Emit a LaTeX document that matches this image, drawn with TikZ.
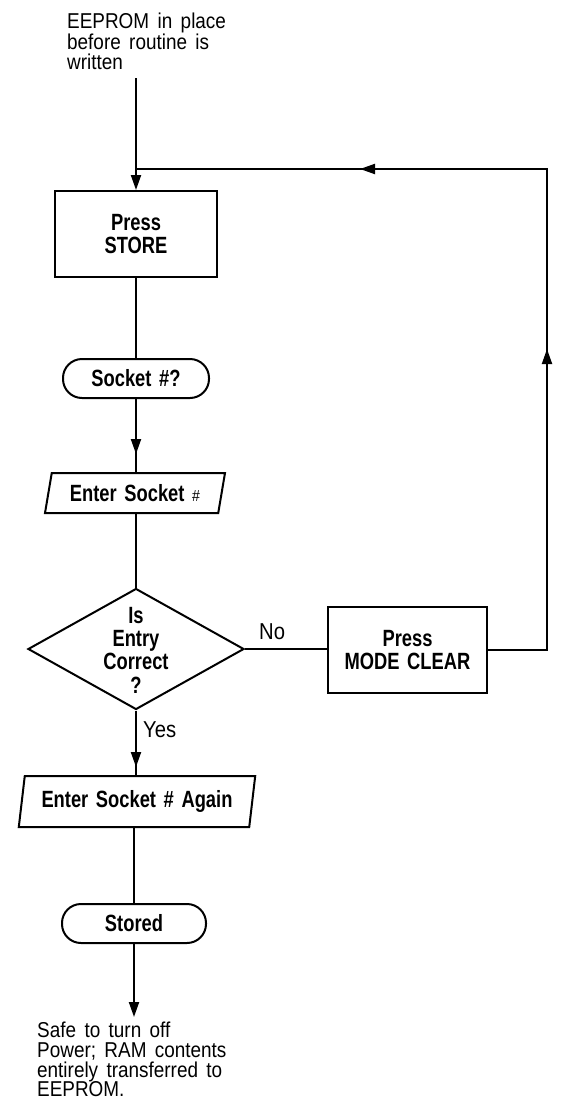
\documentclass[tikz,border=0pt]{standalone}
\usepackage{fontspec}
\usetikzlibrary{shapes.geometric, arrows.meta, decorations.markings}
\newfontfamily\regf{Liberation Sans}[FakeStretch=0.88, WordSpace=1.6]
\newfontfamily\boldf{Liberation Sans}[FakeStretch=0.78, WordSpace=1.5]
\tikzset{
  conn/.style={line width=2pt},
  endtip/.style={-{Triangle[length=15pt,width=10pt]}},
  boldtxt/.style={font=\boldf\bfseries\fontsize{23.5}{23.3}\selectfont},
  boxnode/.style={draw, line width=2pt, rectangle, inner sep=0pt, align=center, boldtxt},
  termnode/.style={draw, line width=2pt, rectangle, rounded corners=19pt, inner sep=0pt, boldtxt},
  paranode/.style={draw, line width=2pt, trapezium, trapezium stretches=true, inner sep=0pt, boldtxt},
  dianode/.style={draw, line width=2pt, diamond, inner sep=0pt, minimum width=216pt, minimum height=121pt},
  plaintxt/.style={inner sep=0pt, align=left, font=\regf\fontsize{21.5}{19.7}\selectfont},
  lbl/.style={inner sep=0pt, font=\regf\fontsize{23}{24}\selectfont}
}
\newcommand{\tri}{Triangle[length=15pt,width=10pt]}
\begin{document}
\begin{tikzpicture}[x=1pt, y=-1pt]
\fill[white] (0,0) rectangle (561,1119);
\useasboundingbox (0,0) rectangle (561,1119);

\node[plaintxt, anchor=north west] (toptxt) at (67,13) {EEPROM in place\\before routine is\\written};
\coordinate (topc) at (136,78);

\node[boxnode, minimum width=162pt, minimum height=86pt] (store) at (136,234) {Press\\STORE};
\node[termnode, minimum width=146pt, minimum height=39pt] (sockq) at (136,378.5) {Socket \#?};
\node[paranode, trapezium left angle=73, trapezium right angle=107, minimum width=180pt, minimum height=40pt] (ent1) at (135,493) {Enter Socket {\regf\mdseries\fontsize{16}{16}\selectfont\#}};
\node[dianode] (dia) at (136,649) {};
\node[boldtxt, align=center, inner sep=0pt] (diatxt) at (136,650) {Is\\Entry\\Correct\\?};
\node[boxnode, minimum width=159pt, minimum height=86pt] (mode) at (407.5,650) {Press\\MODE CLEAR};
\node[paranode, trapezium left angle=77, trapezium right angle=103, minimum width=237pt, minimum height=51pt] (ent2) at (137,801.5) {Enter Socket \# Again};
\node[termnode, minimum width=144pt, minimum height=39pt] (stored) at (134,923.5) {Stored};
\coordinate (endc) at (134,1017);
\node[plaintxt, anchor=north west] (bottxt) at (37,1022) {Safe to turn off\\Power; RAM contents\\entirely transferred to\\EEPROM.};

\node[lbl, anchor=base west] (nolbl) at (259,639) {No};
\node[lbl, anchor=base west] (yeslbl) at (143,737) {Yes};

\coordinate (rc) at (547,169);
\coordinate (jn) at (136,169);

% connectors
\draw[conn, endtip] (topc) -- (store.north);
\draw[conn] (store.south) -- (sockq.north);
\draw[conn, postaction={decorate, decoration={markings, mark=at position -18pt with {\arrow{\tri}}}}] (sockq.south) -- (sockq.south |- ent1.north);
\draw[conn] (dia.north |- ent1.south) -- (dia.north);
\draw[conn] (dia.east) -- (dia.east -| mode.west);
\draw[conn, postaction={decorate, decoration={markings, mark=at position 360pt with {\arrow{\tri}}, mark=at position 727pt with {\arrow{\tri}}}}] (mode.east) -| (rc) -- (jn);
\draw[conn, postaction={decorate, decoration={markings, mark=at position -8pt with {\arrow{\tri}}}}] (dia.south) -- (dia.south |- ent2.north);
\draw[conn] (stored.north |- ent2.south) -- (stored.north);
\draw[conn, endtip] (stored.south) -- (endc);
\end{tikzpicture}
\end{document}
